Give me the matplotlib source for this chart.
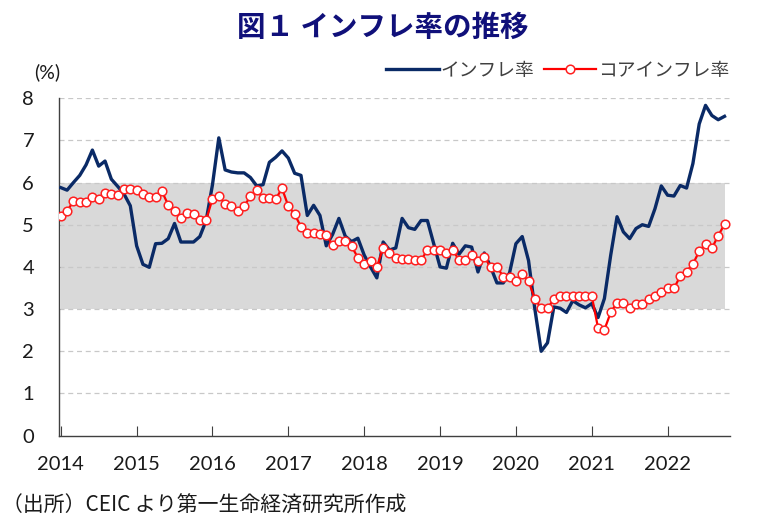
import numpy as np
import matplotlib
matplotlib.use("Agg")
import matplotlib.pyplot as plt

plt.rcParams['font.family'] = ['Noto Sans CJK JP', 'DejaVu Sans']

# monthly data, 2014-01 .. 2022-10
cpi = [5.88, 5.82, 6.00, 6.17, 6.42, 6.77, 6.39, 6.51, 6.08, 5.91, 5.73, 5.45,
       4.50, 4.06, 3.99, 4.55, 4.56, 4.67, 5.03, 4.59, 4.59, 4.59, 4.72, 5.10,
       5.95, 7.06, 6.30, 6.25, 6.23, 6.23, 6.12, 5.92, 5.95, 6.48, 6.60, 6.75,
       6.58, 6.22, 6.17, 5.22, 5.46, 5.22, 4.50, 4.77, 5.15, 4.73, 4.60, 4.68,
       4.28, 4.00, 3.74, 4.59, 4.40, 4.45, 5.15, 4.93, 4.89, 5.10, 5.10, 4.55,
       4.00, 3.97, 4.56, 4.30, 4.50, 4.47, 3.88, 4.33, 4.00, 3.62, 3.62, 3.86,
       4.55, 4.72, 4.15, 3.00, 2.00, 2.20, 3.05, 3.02, 2.92, 3.20, 3.10, 3.03,
       3.13, 2.80, 3.25, 4.28, 5.19, 4.83, 4.67, 4.91, 5.00, 4.96, 5.38, 5.92,
       5.70, 5.68, 5.93, 5.87, 6.45, 7.39, 7.83, 7.59, 7.49, 7.57]
core = [5.21, 5.32, 5.56, 5.54, 5.54, 5.65, 5.60, 5.76, 5.73, 5.70, 5.85, 5.84,
        5.82, 5.74, 5.66, 5.65, 5.79, 5.47, 5.32, 5.17, 5.28, 5.25, 5.12, 5.12,
        5.61, 5.67, 5.50, 5.45, 5.33, 5.44, 5.67, 5.82, 5.63, 5.63, 5.61, 5.86,
        5.44, 5.25, 4.95, 4.81, 4.81, 4.78, 4.76, 4.52, 4.61, 4.61, 4.49, 4.22,
        4.08, 4.14, 3.99, 4.46, 4.33, 4.21, 4.19, 4.19, 4.16, 4.16, 4.40, 4.40,
        4.40, 4.33, 4.41, 4.16, 4.16, 4.28, 4.14, 4.24, 4.00, 4.00, 3.77, 3.75,
        3.66, 3.83, 3.66, 3.24, 3.02, 3.02, 3.23, 3.31, 3.31, 3.31, 3.31, 3.31,
        3.31, 2.55, 2.51, 2.92, 3.15, 3.15, 3.02, 3.12, 3.12, 3.23, 3.31, 3.41,
        3.51, 3.49, 3.78, 3.89, 4.07, 4.37, 4.55, 4.44, 4.74, 5.01]
years = list(range(2014, 2023))
target_band = (3, 6)

x = np.arange(len(cpi))

fig = plt.figure(figsize=(7.63, 5.28), dpi=100)
ax = fig.add_axes([0.077, 0.175, 0.88, 0.639])

ax.fill_between(x, target_band[0], target_band[1], color='#d9d9d9', lw=0, zorder=0)
for v in range(1, 9):
    ax.axhline(v, color='#c8c8c8', lw=0.9, ls=(0, (4, 3)), zorder=1)

ax.plot(x, cpi, color='#0a2a66', lw=2.4, label='インフレ率', zorder=3)
ax.plot(x, core, color='#ff0000', lw=1.6, marker='o', ms=6.2,
        mfc='white', mec='#ff2020', mew=1.1, label='コアインフレ率', zorder=4)

ax.set_xlim(-0.32, 105.9)
ax.set_ylim(0, 8)
ax.set_yticks(range(0, 9))
ax.set_xticks([(y - 2014) * 12 for y in years])
ax.set_xticklabels([str(y) for y in years])

for s in ['top', 'right']:
    ax.spines[s].set_visible(False)
for s in ['left', 'bottom']:
    ax.spines[s].set_color('#404040')
    ax.spines[s].set_linewidth(1.0)
ax.tick_params(axis='x', direction='in', length=7, color='#404040', pad=15)
ax.tick_params(axis='y', length=0, pad=22)
for lab in ax.get_xticklabels() + ax.get_yticklabels():
    lab.set_family('Lato')
    lab.set_fontsize(14.5)
    lab.set_color('#1a1a1a')
for lab in ax.get_yticklabels():
    lab.set_horizontalalignment('center')

leg = ax.legend(loc='lower right', bbox_to_anchor=(1.01, 1.03), ncol=2,
                frameon=False, fontsize=13.5, handlelength=2.8,
                handletextpad=0.1, columnspacing=0.5, borderaxespad=0)
for t in leg.get_texts():
    t.set_color('#404040')

fig.text(0.502, 0.948, '図１ インフレ率の推移', ha='center', va='center',
         fontsize=20.5, fontweight='bold', color='#10107a')
fig.text(0.062, 0.863, '(%)', ha='center', va='center', fontsize=14,
         color='#1a1a1a', family='Lato')
fig.text(0.003, 0.042, '（出所）CEIC より第一生命経済研究所作成', ha='left',
         va='center', fontsize=15, color='#1a1a1a')

fig.savefig('out.png', dpi=100)
